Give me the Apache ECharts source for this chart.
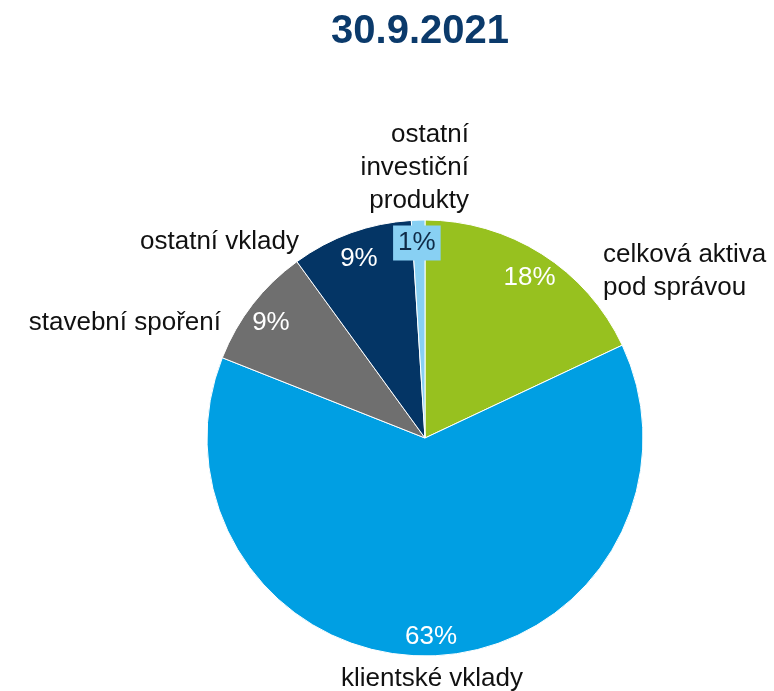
<!DOCTYPE html>
<html>
<head>
<meta charset="utf-8">
<script src="https://cdn.jsdelivr.net/npm/echarts@6/dist/echarts.min.js"></script>
<style>
  html, body { margin: 0; padding: 0; background: #ffffff; }
  #chart { width: 774px; height: 691px; }
</style>
</head>
<body>
<div id="chart"></div>
<script>
// Portfolio structure as of 30.9.2021 (shares in %)
const categories = ['celková aktiva pod správou', 'klientské vklady', 'stavební spoření', 'ostatní vklady', 'ostatní investiční produkty'];
const nameLabels = ['celková aktiva\npod správou', 'klientské vklady', 'stavební spoření', 'ostatní vklady', 'ostatní\ninvestiční\nprodukty'];
const shares = [18, 63, 9, 9, 1];
const titleText = '30.9.2021';

const sliceColors = ['#97C11F', '#009FE3', '#6F6F6F', '#043565', '#88D0F3'];
const FONT = '"Liberation Sans", Arial, sans-serif';

const cx = 425, cy = 438, R = 218;

// Where each category name sits, relative to the pie centre: [dx, dy, align]
const namePlacement = [
  [178, -167, 'left'],
  [7, 241, 'center'],
  [-204, -115, 'right'],
  [-126, -196, 'right'],
  [44, -270, 'right']
];

const pieData = categories.map((c, i) => ({
  name: c,
  value: shares[i],
  itemStyle: { color: sliceColors[i] }
}));

const pctData = categories.map((c, i) => {
  const item = { name: c, value: shares[i] };
  if (shares[i] < 3) {
    // thin slice: the label gets a tinted box so it stays readable
    item.label = {
      color: '#0E2A47',
      backgroundColor: sliceColors[i],
      padding: [5, 5, 4, 5],
      offset: [-2, 0]
    };
  }
  return item;
});

const chart = echarts.init(document.getElementById('chart'), null, { renderer: 'canvas' });

chart.setOption({
  animation: false,
  title: {
    text: titleText,
    left: 415,
    top: 7,
    textAlign: 'center',
    textStyle: { fontFamily: FONT, fontSize: 40, fontWeight: 'bold', color: '#0B3A6B' }
  },
  series: [
    {
      type: 'pie',
      center: [cx, cy],
      radius: R,
      startAngle: 90,
      clockwise: true,
      avoidLabelOverlap: false,
      silent: true,
      itemStyle: { borderColor: '#ffffff', borderWidth: 1 },
      label: {
        show: true,
        position: 'outside',
        formatter: p => nameLabels[p.dataIndex],
        fontFamily: FONT,
        fontSize: 26,
        lineHeight: 33,
        color: '#111111'
      },
      labelLine: { show: false },
      labelLayout: p => {
        const pl = namePlacement[p.dataIndex];
        return { x: cx + pl[0], y: cy + pl[1], align: pl[2], verticalAlign: 'middle' };
      },
      data: pieData
    },
    {
      // invisible ring carrying the percentage labels
      type: 'pie',
      center: [cx, cy],
      radius: [182, 202],
      startAngle: 90,
      clockwise: true,
      silent: true,
      avoidLabelOverlap: false,
      itemStyle: { color: 'rgba(0,0,0,0)', borderWidth: 0 },
      label: {
        show: true,
        position: 'inside',
        rotate: 0,
        offset: [0, 4],
        formatter: '{c}%',
        fontFamily: FONT,
        fontSize: 26,
        color: '#ffffff'
      },
      labelLine: { show: false },
      data: pctData
    }
  ]
});
</script>
</body>
</html>
